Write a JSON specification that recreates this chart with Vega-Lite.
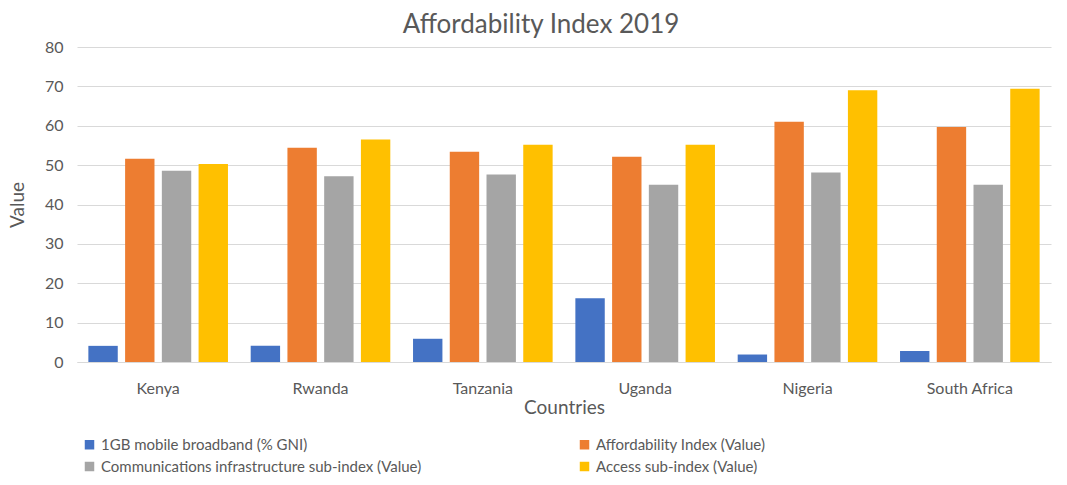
{
  "$schema": "https://vega.github.io/schema/vega-lite/v6.json",
  "autosize": {"type": "none"},
  "padding": {"left": 77, "top": 47, "right": 16, "bottom": 123},
  "width": 974,
  "height": 315,
  "background": "white",
  "title": {
    "text": "Affordability Index 2019",
    "font": "Lato",
    "fontSize": 26,
    "fontWeight": "normal",
    "color": "#595959",
    "anchor": "middle",
    "dx": -23,
    "offset": 1
  },
  "data": {
    "values": [
      {"country": "Kenya", "series": "1GB mobile broadband (% GNI)", "value": 4.1},
      {"country": "Kenya", "series": "Affordability Index (Value)", "value": 51.6},
      {"country": "Kenya", "series": "Communications infrastructure sub-index (Value)", "value": 48.6},
      {"country": "Kenya", "series": "Access sub-index (Value)", "value": 50.3},
      {"country": "Rwanda", "series": "1GB mobile broadband (% GNI)", "value": 4.1},
      {"country": "Rwanda", "series": "Affordability Index (Value)", "value": 54.4},
      {"country": "Rwanda", "series": "Communications infrastructure sub-index (Value)", "value": 47.2},
      {"country": "Rwanda", "series": "Access sub-index (Value)", "value": 56.5},
      {"country": "Tanzania", "series": "1GB mobile broadband (% GNI)", "value": 5.9},
      {"country": "Tanzania", "series": "Affordability Index (Value)", "value": 53.4},
      {"country": "Tanzania", "series": "Communications infrastructure sub-index (Value)", "value": 47.6},
      {"country": "Tanzania", "series": "Access sub-index (Value)", "value": 55.2},
      {"country": "Uganda", "series": "1GB mobile broadband (% GNI)", "value": 16.2},
      {"country": "Uganda", "series": "Affordability Index (Value)", "value": 52.1},
      {"country": "Uganda", "series": "Communications infrastructure sub-index (Value)", "value": 45.0},
      {"country": "Uganda", "series": "Access sub-index (Value)", "value": 55.2},
      {"country": "Nigeria", "series": "1GB mobile broadband (% GNI)", "value": 1.9},
      {"country": "Nigeria", "series": "Affordability Index (Value)", "value": 61.0},
      {"country": "Nigeria", "series": "Communications infrastructure sub-index (Value)", "value": 48.1},
      {"country": "Nigeria", "series": "Access sub-index (Value)", "value": 69.0},
      {"country": "South Africa", "series": "1GB mobile broadband (% GNI)", "value": 2.8},
      {"country": "South Africa", "series": "Affordability Index (Value)", "value": 59.7},
      {"country": "South Africa", "series": "Communications infrastructure sub-index (Value)", "value": 45.0},
      {"country": "South Africa", "series": "Access sub-index (Value)", "value": 69.4}
    ]
  },
  "mark": {"type": "bar"},
  "encoding": {
    "x": {
      "field": "country",
      "type": "nominal",
      "sort": ["Kenya", "Rwanda", "Tanzania", "Uganda", "Nigeria", "South Africa"],
      "scale": {"paddingInner": 0.14, "paddingOuter": 0.07},
      "axis": {
        "title": "Countries",
        "labelAngle": 0,
        "labelFont": "Lato",
        "labelFontSize": 16,
        "labelColor": "#595959",
        "labelPadding": 18,
        "titleFont": "Lato",
        "titleFontSize": 19,
        "titleFontWeight": "normal",
        "titleColor": "#595959",
        "titlePadding": 2,
        "ticks": false,
        "domainColor": "#d9d9d9"
      }
    },
    "xOffset": {
      "field": "series",
      "type": "nominal",
      "sort": ["1GB mobile broadband (% GNI)", "Affordability Index (Value)", "Communications infrastructure sub-index (Value)", "Access sub-index (Value)"],
      "scale": {"paddingInner": 0.2, "paddingOuter": 0}
    },
    "y": {
      "field": "value",
      "type": "quantitative",
      "scale": {"domain": [0, 80]},
      "axis": {
        "title": "Value",
        "values": [0, 10, 20, 30, 40, 50, 60, 70, 80],
        "labelOverlap": false,
        "labelFont": "Lato",
        "labelFontSize": 16,
        "labelColor": "#595959",
        "labelPadding": 14,
        "titleFont": "Lato",
        "titleFontSize": 19,
        "titleFontWeight": "normal",
        "titleColor": "#595959",
        "titlePadding": 17,
        "ticks": false,
        "domain": false,
        "gridColor": "#d9d9d9"
      }
    },
    "color": {
      "field": "series",
      "type": "nominal",
      "sort": ["1GB mobile broadband (% GNI)", "Affordability Index (Value)", "Communications infrastructure sub-index (Value)", "Access sub-index (Value)"],
      "scale": {
        "domain": ["1GB mobile broadband (% GNI)", "Affordability Index (Value)", "Communications infrastructure sub-index (Value)", "Access sub-index (Value)"],
        "range": ["#4472C4", "#ED7D31", "#A5A5A5", "#FFC000"]
      },
      "legend": {
        "title": null,
        "orient": "none",
        "legendX": 5,
        "legendY": 390,
        "direction": "horizontal",
        "columns": 2,
        "columnPadding": 155,
        "rowPadding": 6,
        "symbolType": "square",
        "symbolSize": 90,
        "symbolStrokeWidth": 0,
        "labelFont": "Lato",
        "labelFontSize": 15,
        "labelColor": "#595959",
        "labelLimit": 600,
        "labelOffset": 4
      }
    }
  },
  "config": {
    "view": {"stroke": null}
  }
}
